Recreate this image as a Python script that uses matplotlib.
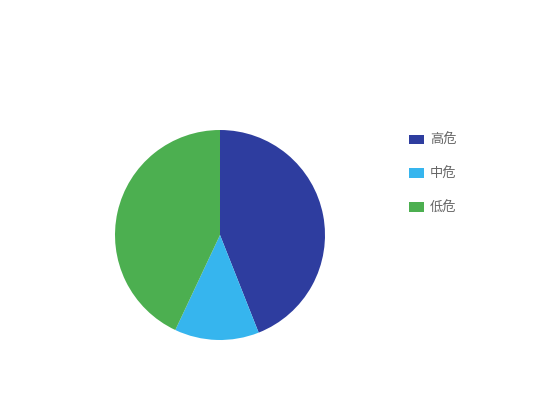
import matplotlib
matplotlib.use("Agg")
import matplotlib.pyplot as plt
from matplotlib.patches import Patch

plt.rcParams['font.family'] = ['Noto Sans CJK SC', 'DejaVu Sans']

categories = ['高危', '中危', '低危']
values = [44, 13, 43]
colors = ['#2E3D9F', '#36B5EE', '#4CAF50']

W, H = 550, 420
fig = plt.figure(figsize=(W / 100, H / 100), dpi=100)
cx, cy, r = 220, 235, 105
ax = fig.add_axes([(cx - r) / W, (H - cy - r) / H, 2 * r / W, 2 * r / H])
ax.pie(values, colors=colors, startangle=90, counterclock=False,
       wedgeprops=dict(linewidth=0), radius=1)
ax.set_xlim(-1, 1)
ax.set_ylim(-1, 1)
ax.set_aspect('equal')
ax.axis('off')

handles = [Patch(facecolor=c, edgecolor='none') for c in colors]
leg = fig.legend(handles, categories, loc='upper left',
                 bbox_to_anchor=(409 / W, 1 - 134 / H), frameon=False,
                 fontsize=9.5, handlelength=1.14, handleheight=0.76,
                 handletextpad=0.45, labelspacing=1.56, borderpad=0,
                 borderaxespad=0)
for t in leg.get_texts():
    t.set_color('#666666')

fig.savefig('out.png', dpi=100)
